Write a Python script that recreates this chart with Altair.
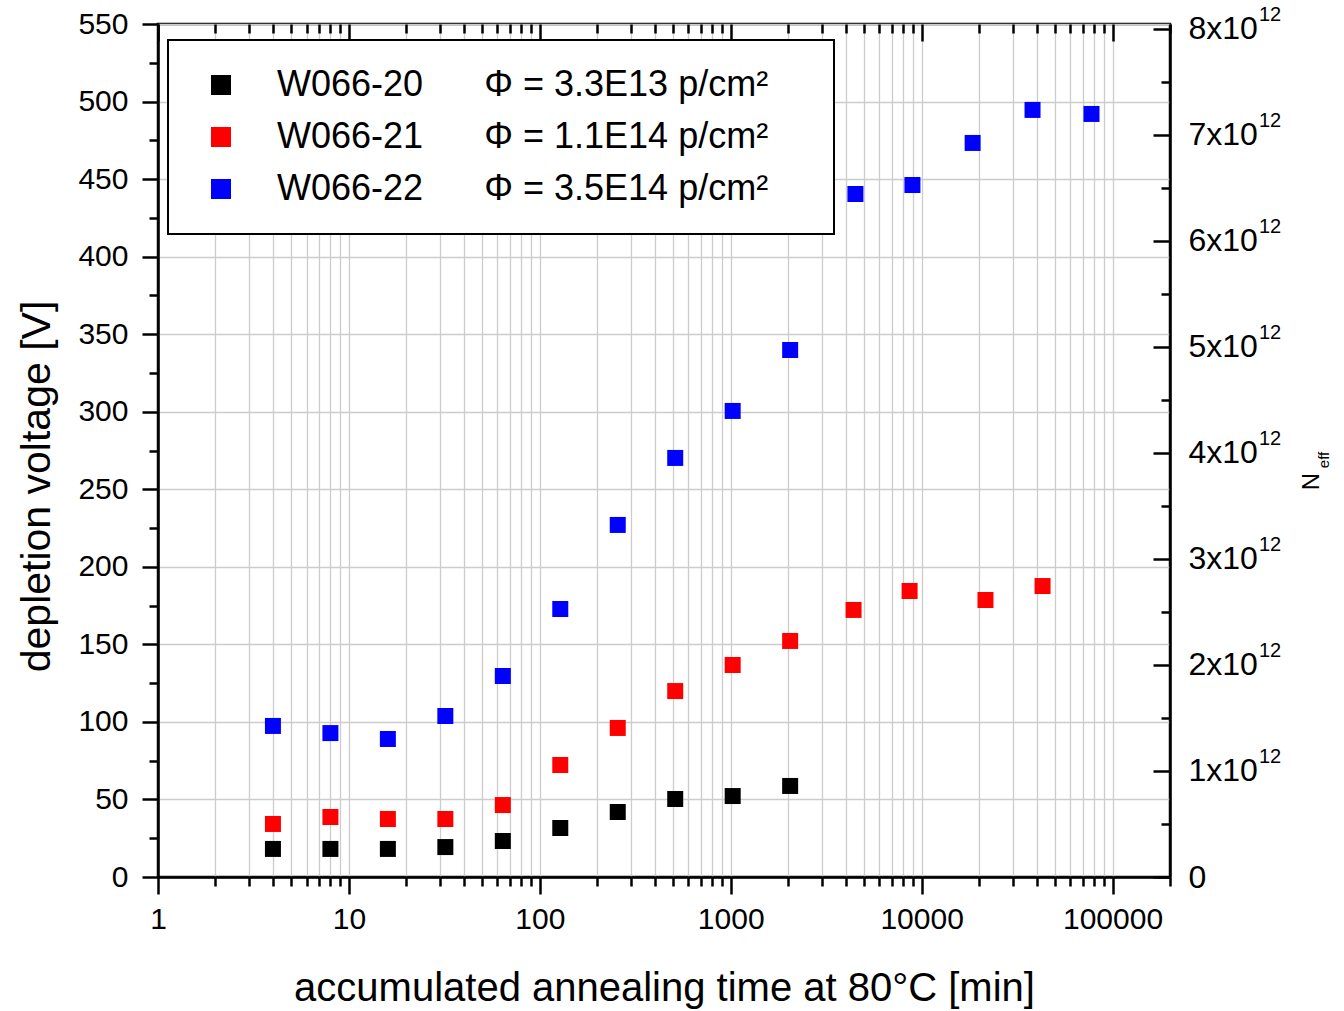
import altair as alt
import pandas as pd

# ---------------- data ----------------
series = ["W066-20", "W066-21", "W066-22"]
fluence = ["3.3E13", "1.1E14", "3.5E14"]
colors = ["#000000", "#ff0000", "#0000ff"]

w20_time = [4, 8, 16, 32, 64, 128, 256, 512, 1024, 2048]
w20_volt = [18.1, 18.1, 18.1, 19.3, 23.2, 31.6, 41.9, 50.3, 52.2, 58.7]

w21_time = [4, 8, 16, 32, 64, 128, 256, 512, 1024, 2048, 4400, 8650, 21600, 43000]
w21_volt = [34.2, 38.7, 37.4, 37.4, 46.4, 72.2, 96.1, 119.9, 136.7, 152.2,
            172.2, 184.4, 178.6, 187.6]

w22_time = [4, 8, 16, 32, 64, 128, 256, 512, 1024, 2048, 4500, 8950, 18500, 38100, 77600]
w22_volt = [97.4, 92.8, 89.0, 103.8, 129.6, 172.8, 227.0, 270.2, 300.5, 339.8,
            440.4, 446.2, 473.3, 494.6, 492.0]

x_ticks = [m * 10 ** k for k in range(0, 6) for m in range(1, 10) if m * 10 ** k <= 200000]
y_ticks = list(range(0, 551, 25))
neff_major = [i * 1e12 for i in range(0, 9)]
neff_all = [i * 0.5e12 for i in range(0, 17)]
neff_exp_label = "12"

x_domain = [1, 200000]
y_domain = [0, 550]
neff_domain = [0, 8.047e12]

# ---------------- build tables ----------------
rows = []
for name, tt, vv in [(series[0], w20_time, w20_volt),
                     (series[1], w21_time, w21_volt),
                     (series[2], w22_time, w22_volt)]:
    for t, v in zip(tt, vv):
        rows.append({"sample": name, "time": t, "voltage": v})
df = pd.DataFrame(rows)

W, H = 1012, 853
FONT = "Liberation Sans"

xscale = alt.Scale(type="log", domain=x_domain, nice=False)
yscale = alt.Scale(domain=y_domain, nice=False, zero=False)
nscale = alt.Scale(domain=neff_domain, nice=False, zero=False)

is_decade = "abs(log(datum.value)/LN10 - round(log(datum.value)/LN10)) < 0.001"
is_y_major = "datum.value % 50 == 0"
is_n_major = "abs(datum.value/1e12 - round(datum.value/1e12)) < 0.01"

legend_expr = " : ".join(
    f"datum.label == '{s}' ? '{s}\u2003\u2002\u2009\u03a6 = {f} p/cm\u00b2\u2004\u2800'"
    for s, f in zip(series, fluence)
) + " : datum.label"

points = alt.Chart(df).mark_square(size=256, opacity=1).encode(
    x=alt.X("time:Q", scale=xscale, axis=alt.Axis(
        orient="bottom", values=x_ticks, labelFlush=False, labelOverlap=False,
        labelExpr=f"{is_decade} ? format(datum.value, 'd') : ''",
        tickSize={"condition": {"test": is_decade, "value": 17}, "value": 9},
        labelPadding=10, labelFontSize=30,
        title="accumulated annealing time at 80°C [min]",
        titleFontSize=40, titleY=123, titleBaseline="alphabetic",
        grid=True)),
    y=alt.Y("voltage:Q", scale=yscale, axis=alt.Axis(
        orient="left", values=y_ticks, labelOverlap=False,
        labelExpr=f"{is_y_major} ? format(datum.value, 'd') : ''",
        tickSize={"condition": {"test": is_y_major, "value": 16}, "value": 9},
        gridOpacity={"condition": {"test": is_y_major, "value": 1}, "value": 0},
        labelPadding=14, labelFontSize=30,
        title="depletion voltage [V]", titleFontSize=41, titleAngle=270,
        titleX=-109, titleY=462, titleBaseline="alphabetic", titleAlign="center",
        grid=True)),
    color=alt.Color("sample:N", scale=alt.Scale(domain=series, range=colors),
                    legend=alt.Legend(
                        orient="none", legendX=10, legendY=16, title=None,
                        direction="vertical", symbolType="square", symbolSize=400,
                        symbolStrokeWidth=0, symbolOpacity=1,
                        labelFontSize=36, labelLimit=1000, labelOffset=38,
                        symbolOffset=8, padding=27, rowPadding=16,
                        strokeColor="black", fillColor="white",
                        labelExpr=legend_expr)),
)

top_ticks = alt.Chart(pd.DataFrame({"t": x_ticks})).mark_point(opacity=0).encode(
    x=alt.X("t:Q", scale=xscale, axis=alt.Axis(
        orient="bottom", offset=-H, values=x_ticks, labels=False, grid=False,
        domain=False, title=None,
        tickSize={"condition": {"test": is_decade, "value": 17}, "value": 9})),
)

neff_labels = alt.Chart(pd.DataFrame({"n": neff_major})).mark_point(opacity=0).encode(
    y=alt.Y("n:Q", scale=nscale, axis=alt.Axis(
        orient="right", values=neff_major, ticks=False, grid=False, domain=True,
        labelPadding=18, labelFontSize=32, labelOverlap=False,
        labelExpr="datum.value == 0 ? '0' : format(datum.value/1e12, 'd') + 'x10'",
        title="N", titleFontSize=24, titleAngle=270, titleX=148, titleY=457,
        titleBaseline="alphabetic", titleAlign="center")),
)

# superscript exponent on the right-axis labels, placed by the Neff scale
sup_df = pd.DataFrame({"n": [v for v in neff_major if v > 0],
                       "e": [neff_exp_label] * (len(neff_major) - 1)})
neff_sup = alt.Chart(sup_df).mark_text(
    fontSize=20, align="left", baseline="alphabetic", font=FONT, color="black", dy=-8
).encode(
    x=alt.value(1259 - 158),
    y=alt.Y("n:Q", scale=nscale, axis=None),
    text="e:N",
)

neff_ticks = alt.Chart(pd.DataFrame({"m": neff_all})).mark_point(opacity=0).encode(
    y=alt.Y("m:Q", scale=nscale, axis=alt.Axis(
        orient="left", offset=-W, values=neff_all, labels=False, grid=False,
        domain=False, title=None,
        tickSize={"condition": {"test": is_n_major, "value": 17}, "value": 9})),
)

eff_text = alt.Chart(pd.DataFrame({"s": ["eff"]})).mark_text(
    angle=270, fontSize=15, align="center", baseline="alphabetic", font=FONT, color="black"
).encode(x=alt.value(1329 - 158), y=alt.value(438 - 24 + 22), text="s:N")

chart = alt.layer(points, top_ticks, neff_labels, neff_ticks, neff_sup, eff_text).resolve_scale(
    x="independent", y="independent"
).resolve_axis(
    x="independent", y="independent"
).properties(
    width=W, height=H,
    autosize=alt.AutoSizeParams(type="none"),
    padding={"left": 158, "top": 24, "right": 174, "bottom": 134},
    background="white",
).configure(
    font=FONT
).configure_view(
    stroke="black", strokeWidth=2.5
).configure_axis(
    domainColor="black", domainWidth=2.5, tickColor="black", tickWidth=2.5,
    labelColor="black", titleColor="black", titleFontWeight="normal",
    gridColor="#cccccc", gridWidth=1.3, labelFont=FONT, titleFont=FONT
).configure_legend(
    strokeWidth=2, labelColor="black", labelFont=FONT
)

chart.save("out.html", embed_options={"renderer": "svg", "actions": False})
